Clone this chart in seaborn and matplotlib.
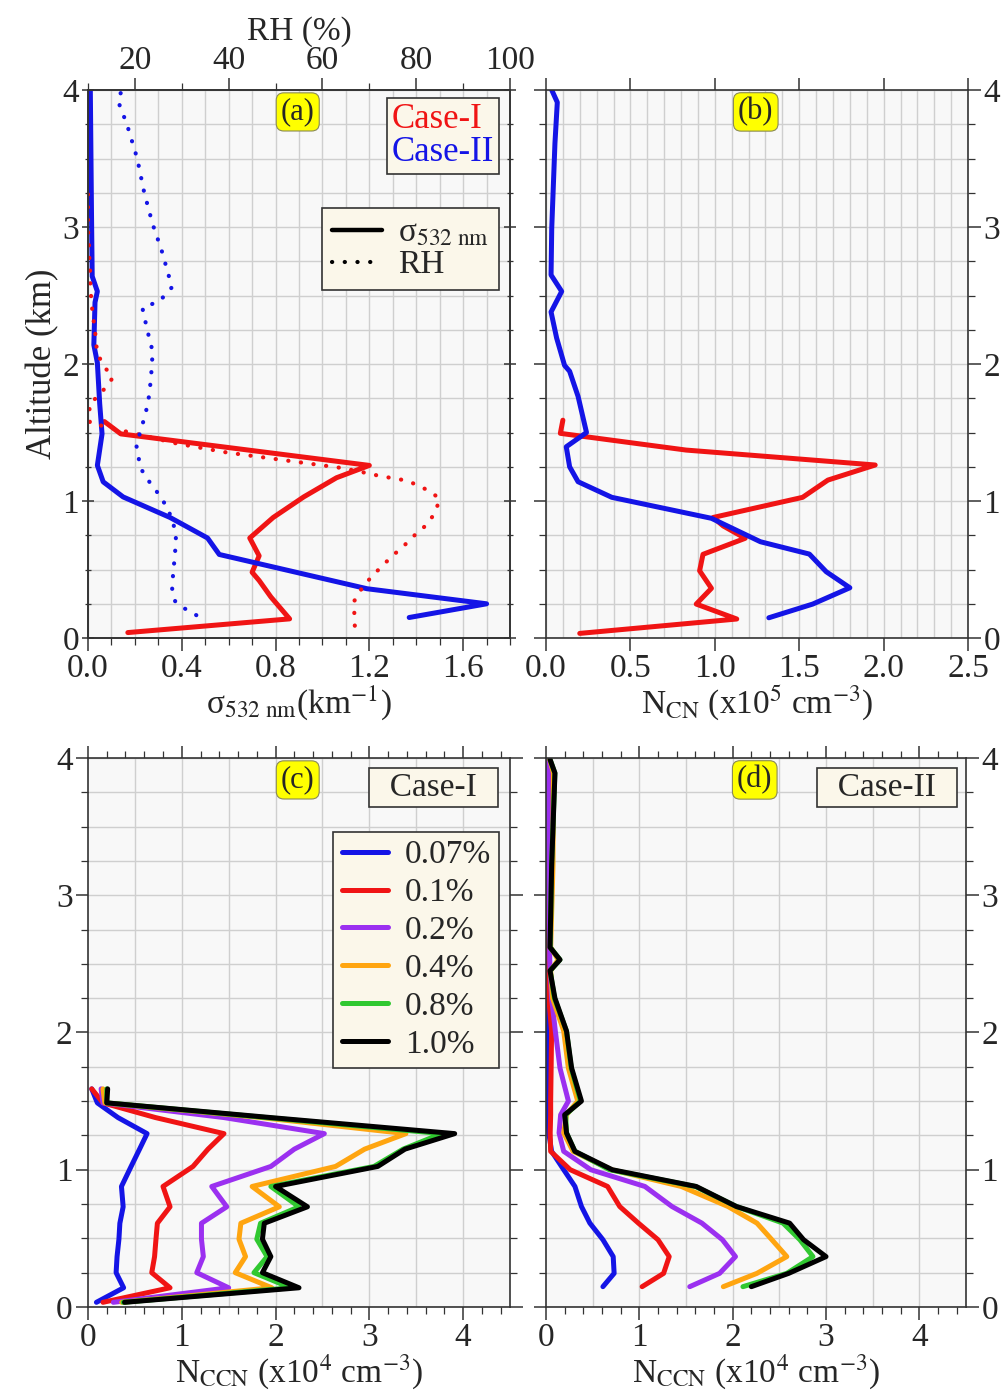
import matplotlib
matplotlib.use('Agg')
import matplotlib.pyplot as plt
from matplotlib.lines import Line2D
from matplotlib.ticker import MultipleLocator
import numpy as np
import seaborn as sns


# ---------------- values ----------------

# (a) extinction coefficient at 532 nm (km-1)
altSig1 = [0.04, 0.14, 0.22, 0.30, 0.42, 0.48, 0.60, 0.73, 0.88, 1.03, 1.17, 1.26, 1.49, 1.58]
sig1 = [0.17, 0.86, 0.82, 0.78, 0.73, 0.70, 0.73, 0.69, 0.79, 0.92, 1.06, 1.20, 0.14, 0.07]

altSig2 = [0.15, 0.25, 0.36, 0.61, 0.73, 0.88, 1.03, 1.14, 1.26, 1.49, 1.71, 2.01, 2.14,
           2.45, 2.53, 2.64, 3.10, 4.00]
sig2 = [1.37, 1.70, 1.19, 0.56, 0.51, 0.35, 0.15, 0.065, 0.04, 0.06, 0.05, 0.04, 0.025,
        0.03, 0.04, 0.018, 0.015, 0.01]

# (a) relative humidity (%)
altRh1 = [0.09, 0.18, 0.265, 0.343, 0.41, 0.48, 0.545, 0.606, 0.666, 0.732, 0.79, 0.854,
          0.934, 1.015, 1.068, 1.11, 1.148, 1.165, 1.18, 1.20, 1.24, 1.355, 1.42, 1.55,
          1.57, 1.71, 1.76, 1.83, 1.90, 1.98, 2.05, 2.13, 2.21, 2.29, 2.40, 2.48, 2.56,
          2.65, 2.75, 2.83, 2.91, 3.0, 3.1, 3.3]
rh1 = [66.9, 66.8, 66.7, 68.0, 69.5, 71.4, 73.3, 75.1, 77.2, 79.0, 81.1, 82.9, 84.2, 85.0,
       83.1, 80.6, 78.1, 75.4, 72.6, 70.0, 64.4, 39.5, 28.9, 12.9, 10.4, 10.3, 12.0, 13.8,
       15.3, 13.5, 12.4, 11.8, 11.6, 11.3, 10.9, 10.7, 10.5, 10.5, 10.3, 10.3, 10.1, 10.0,
       10.0, 10.0]

altRh2 = [0.167, 0.218, 0.268, 0.368, 0.519, 0.637, 0.77, 0.94, 1.04, 1.14, 1.24, 1.41,
          1.51, 1.64, 1.78, 1.93, 2.09, 2.24, 2.41, 2.46, 2.56, 2.66, 2.83, 3.02, 3.25,
          3.50, 3.75, 3.92, 4.0]
rh2 = [33.1, 30.5, 28.6, 27.9, 28.3, 28.6, 28.8, 27.1, 25.3, 23.1, 21.2, 20.3, 21.2, 22.3,
       23.1, 23.5, 23.8, 22.7, 21.6, 25.3, 27.9, 27.1, 25.7, 23.8, 22.0, 20.5, 18.3, 16.4,
       17.2]

# (b) CN number concentration (x10^5 cm-3)
altCn1 = [0.034, 0.139, 0.248, 0.363, 0.491, 0.611, 0.728, 0.818, 0.88, 1.027, 1.153,
          1.263, 1.372, 1.494, 1.59]
cn1 = [0.20, 1.13, 0.89, 0.98, 0.91, 0.93, 1.18, 1.05, 0.99, 1.52, 1.67, 1.95, 0.83, 0.085, 0.10]

altCn2 = [0.148, 0.248, 0.367, 0.484, 0.613, 0.703, 0.874, 1.027, 1.141, 1.25, 1.396, 1.50,
          1.764, 1.947, 1.99, 2.19, 2.38, 2.53, 2.65, 2.99, 3.61, 3.91, 4.0]
cn2 = [1.32, 1.58, 1.80, 1.66, 1.56, 1.27, 0.98, 0.39, 0.19, 0.14, 0.12, 0.24, 0.19, 0.14,
       0.11, 0.063, 0.03, 0.093, 0.03, 0.034, 0.053, 0.067, 0.034]

# (c) Case-I CCN number concentration (x10^4 cm-3) at each supersaturation
ssLabels = ['0.07%', '0.1%', '0.2%', '0.4%', '0.8%', '1.0%']
altCcn1 = [0.034, 0.14, 0.25, 0.367, 0.494, 0.61, 0.73, 0.878, 1.024, 1.15, 1.263, 1.38,
           1.487, 1.589]
ccn1Ss007 = [0.09, 0.38, 0.30, 0.31, 0.33, 0.34, 0.375, 0.357, 0.46, 0.55, 0.63, 0.32, 0.10, 0.04]
ccn1Ss01 = [0.16, 0.875, 0.68, 0.71, 0.725, 0.74, 0.875, 0.80, 1.12, 1.28, 1.45, 0.72, 0.16, 0.04]
ccn1Ss02 = [0.27, 1.50, 1.16, 1.23, 1.21, 1.21, 1.48, 1.32, 1.95, 2.20, 2.52, 1.45, 0.16, 0.14]
ccn1Ss04 = [0.36, 1.96, 1.57, 1.68, 1.61, 1.63, 2.04, 1.75, 2.64, 2.95, 3.39, 1.85, 0.18, 0.16]
ccn1Ss08 = [0.375, 2.16, 1.77, 1.91, 1.80, 1.84, 2.25, 1.95, 3.05, 3.36, 3.77, 1.90, 0.20, 0.20]
ccn1Ss10 = [0.39, 2.25, 1.86, 1.95, 1.86, 1.88, 2.34, 2.00, 3.09, 3.38, 3.91, 1.95, 0.20, 0.21]

# (d) Case-II CCN number concentration (x10^4 cm-3)
altCcn2 = [0.148, 0.245, 0.367, 0.49, 0.611, 0.732, 0.878, 1.0, 1.134, 1.268, 1.40, 1.50,
           1.74, 2.01, 2.25, 2.45, 2.53, 2.62, 3.22, 3.89, 3.99]
ccn2Ss007 = [0.61, 0.73, 0.72, 0.61, 0.47, 0.38, 0.31, 0.19, 0.06, 0.03, 0.02, 0.02, 0.015,
             0.01, 0.01, 0.01, 0.01, 0.01, 0.01, 0.01, 0.01]
ccn2Ss01 = [1.03, 1.26, 1.32, 1.20, 0.99, 0.79, 0.66, 0.26, 0.05, 0.045, 0.05, 0.05, 0.055,
            0.06, 0.03, 0.01, 0.005, 0.0, 0.03, 0.03, 0.025]
ccn2Ss02 = [1.54, 1.86, 2.03, 1.89, 1.67, 1.35, 1.06, 0.48, 0.19, 0.14, 0.157, 0.24, 0.15,
            0.10, 0.06, 0.045, 0.04, 0.04, 0.025, 0.025, 0.025]
ccn2Ss04 = [1.90, 2.26, 2.58, 2.42, 2.26, 1.95, 1.45, 0.70, 0.29, 0.19, 0.22, 0.34, 0.24,
            0.19, 0.07, 0.05, 0.13, 0.05, 0.075, 0.08, 0.04]
ccn2Ss08 = [2.11, 2.58, 2.86, 2.72, 2.54, 2.04, 1.60, 0.68, 0.31, 0.22, 0.21, 0.37, 0.27,
            0.22, 0.09, 0.045, 0.15, 0.045, 0.06, 0.095, 0.043]
ccn2Ss10 = [2.20, 2.60, 3.00, 2.76, 2.61, 2.04, 1.61, 0.71, 0.31, 0.22, 0.20, 0.38, 0.275,
            0.22, 0.096, 0.043, 0.15, 0.043, 0.061, 0.096, 0.043]

ssColors = ['#1414e6', '#f01414', '#9b30f0', '#ffa510', '#30c830', '#000000']
redC = '#f01414'
blueC = '#1414e6'
boxFace = '#fbf7ea'


# ---------------- figure ----------------
sns.set_theme(style='ticks')
plt.rcParams['font.family'] = ['Liberation Serif', 'DejaVu Serif']
plt.rcParams['mathtext.fontset'] = 'stix'
plt.rcParams['axes.facecolor'] = '#f8f8f8'
plt.rcParams['axes.edgecolor'] = '#333333'
plt.rcParams['axes.linewidth'] = 1.2

fs = 24
lw = 3.6

fig = plt.figure(figsize=(10.02, 13.91), dpi=100)
axA = fig.add_axes([0.0878, 0.5413, 0.4212, 0.3940])
axB = fig.add_axes([0.5449, 0.5413, 0.4212, 0.3940])
axC = fig.add_axes([0.0878, 0.0604, 0.4212, 0.3947])
axD = fig.add_axes([0.5449, 0.0604, 0.4192, 0.3947])


def baseStyle(ax, rightSide=False):
    ax.set_ylim(0, 4)
    ax.yaxis.set_major_locator(MultipleLocator(1))
    ax.yaxis.set_minor_locator(MultipleLocator(0.25))
    ax.tick_params(which='both', labelsize=fs, direction='out', color='#333333',
                   top=True, right=True, left=True, bottom=True)
    ax.tick_params(which='major', length=9, width=1.1, pad=2)
    ax.tick_params(which='minor', length=5, width=0.9)
    if rightSide:
        ax.tick_params(axis='y', labelleft=False, labelright=True)
    ax.grid(axis='y', which='both', color='#cfcfcf', lw=1.0)
    ax.set_axisbelow(True)
    for s in ax.spines.values():
        s.set_zorder(5)


def tagLabel(ax, text):
    ax.text(0.497, 0.96, text, transform=ax.transAxes, ha='center', va='center',
            fontsize=22, zorder=10,
            bbox=dict(boxstyle='round,pad=0.15,rounding_size=0.25', fc='#ffff00',
                      ec='#8a8a55', lw=0.8))


def caseBox(ax, text, xr):
    ax.text(xr, 0.974, text, transform=ax.transAxes, ha='right', va='top',
            fontsize=fs, zorder=10,
            bbox=dict(boxstyle='square,pad=0.12', fc=boxFace, ec='#333333', lw=1.2))


sigLabel = 'σ$_{532\\ \\mathrm{nm}}$'

# ---- (a) ----
baseStyle(axA)
axA.set_xlim(0, 1.8)
axA.xaxis.set_major_locator(MultipleLocator(0.4))
axA.xaxis.set_minor_locator(MultipleLocator(0.1))
axA.grid(axis='x', which='both', color='#cfcfcf', lw=1.0)
axA.tick_params(axis='x', top=False)
axA.tick_params(axis='y', which='both', direction='inout')
axA.xaxis.set_major_formatter(plt.FuncFormatter(lambda v, p: f'{v:.1f}'))

sns.lineplot(x=sig1, y=altSig1, sort=False, estimator=None, ax=axA, color=redC, lw=lw)
sns.lineplot(x=sig2, y=altSig2, sort=False, estimator=None, ax=axA, color=blueC, lw=lw)

axA2 = axA.twiny()
axA2.set_xlim(10, 100)
axA2.xaxis.set_major_locator(MultipleLocator(20))
axA2.xaxis.set_minor_locator(MultipleLocator(10))
axA2.tick_params(which='both', labelsize=fs, direction='out', color='#333333')
axA2.tick_params(which='major', length=9, width=1.1, pad=1)
axA2.tick_params(which='minor', length=5, width=0.9)
axA2.grid(False)
dotStyle = (0, (0.05, 3.0))
sns.lineplot(x=rh1, y=altRh1, sort=False, estimator=None, ax=axA2, color=redC, lw=3.0,
             linestyle=dotStyle, dash_capstyle='round')
sns.lineplot(x=rh2, y=altRh2, sort=False, estimator=None, ax=axA2, color=blueC, lw=3.0,
             linestyle=dotStyle, dash_capstyle='round')
axA2.set_ylim(0, 4)
axA2.set_xlabel('RH (%)', fontsize=fs, labelpad=4)

axA.set_xlabel(sigLabel + '(km$^{-1}$)', fontsize=fs, labelpad=0)
axA.set_ylabel('Altitude (km)', fontsize=fs + 1, labelpad=2)

caseHandles = [Line2D([], [], color=redC, lw=0), Line2D([], [], color=blueC, lw=0)]
legCase = axA2.legend(caseHandles, ['Case-I', 'Case-II'], loc='upper right',
                      bbox_to_anchor=(0.975, 0.986), borderaxespad=0, fontsize=fs + 1,
                      handlelength=0, handletextpad=0, labelcolor='linecolor',
                      fancybox=False, framealpha=1, facecolor=boxFace, edgecolor='#333333',
                      borderpad=0.15, labelspacing=0.0, alignment='center')
legCase.get_frame().set_linewidth(1.2)
axA2.add_artist(legCase)
varHandles = [Line2D([], [], color='black', lw=3.2),
              Line2D([], [], color='black', lw=3.0, linestyle=dotStyle, dash_capstyle='round')]
legVar = axA2.legend(varHandles, [sigLabel, 'RH'], loc='upper right',
                     bbox_to_anchor=(0.975, 0.785), borderaxespad=0, fontsize=fs,
                     handlelength=1.5, handletextpad=0.5, fancybox=False, framealpha=1,
                     facecolor=boxFace, edgecolor='#333333', borderpad=0.3,
                     labelspacing=0.05)
legVar.get_frame().set_linewidth(1.2)
tagLabel(axA2, '(a)')

# ---- (b) ----
baseStyle(axB, rightSide=True)
axB.set_xlim(0, 2.5)
axB.xaxis.set_major_locator(MultipleLocator(0.5))
axB.xaxis.set_minor_locator(MultipleLocator(0.1))
axB.tick_params(axis='x', which='minor', length=0)
axB.grid(axis='x', which='both', color='#cfcfcf', lw=1.0)
axB.xaxis.set_major_formatter(plt.FuncFormatter(lambda v, p: f'{v:.1f}'))
sns.lineplot(x=cn1, y=altCn1, sort=False, estimator=None, ax=axB, color=redC, lw=lw)
sns.lineplot(x=cn2, y=altCn2, sort=False, estimator=None, ax=axB, color=blueC, lw=lw)
axB.set_xlabel(r'N$_{\mathrm{CN}}$ (x10$^5$ cm$^{-3}$)', fontsize=fs, labelpad=0)
axB.set_ylabel('')
tagLabel(axB, '(b)')

# ---- (c) and (d) ----
ccnCase1 = [ccn1Ss007, ccn1Ss01, ccn1Ss02, ccn1Ss04, ccn1Ss08, ccn1Ss10]
ccnCase2 = [ccn2Ss007, ccn2Ss01, ccn2Ss02, ccn2Ss04, ccn2Ss08, ccn2Ss10]

for ax, alts, series, right in [(axC, altCcn1, ccnCase1, False), (axD, altCcn2, ccnCase2, True)]:
    baseStyle(ax, rightSide=right)
    ax.set_xlim(0, 4.5)
    ax.xaxis.set_major_locator(MultipleLocator(1))
    ax.xaxis.set_minor_locator(MultipleLocator(0.2))
    for gx in np.arange(0.5, 4.5, 0.5):
        ax.axvline(gx, color='#cfcfcf', lw=1.0, zorder=0)
    for vals, col, lab in zip(series, ssColors, ssLabels):
        sns.lineplot(x=vals, y=alts, sort=False, estimator=None, ax=ax, color=col,
                     lw=lw, label=lab, legend=False)
    ax.set_xlabel(r'N$_{\mathrm{CCN}}$ (x10$^4$ cm$^{-3}$)', fontsize=fs, labelpad=0)
    ax.set_ylabel('')

ssHandles = [Line2D([], [], color=c, lw=lw) for c in ssColors]
legSs = axC.legend(ssHandles, ssLabels, loc='upper right', bbox_to_anchor=(0.975, 0.866),
                   borderaxespad=0, fontsize=fs, handlelength=1.4, handletextpad=0.5,
                   fancybox=False, framealpha=1, facecolor=boxFace, edgecolor='#333333',
                   borderpad=0.25, labelspacing=0.22)
legSs.get_frame().set_linewidth(1.2)
tagLabel(axC, '(c)')
tagLabel(axD, '(d)')
caseBox(axC, '  Case-I  ', 0.962)
caseBox(axD, '  Case-II  ', 0.968)

fig.savefig('out.png', dpi=100)
